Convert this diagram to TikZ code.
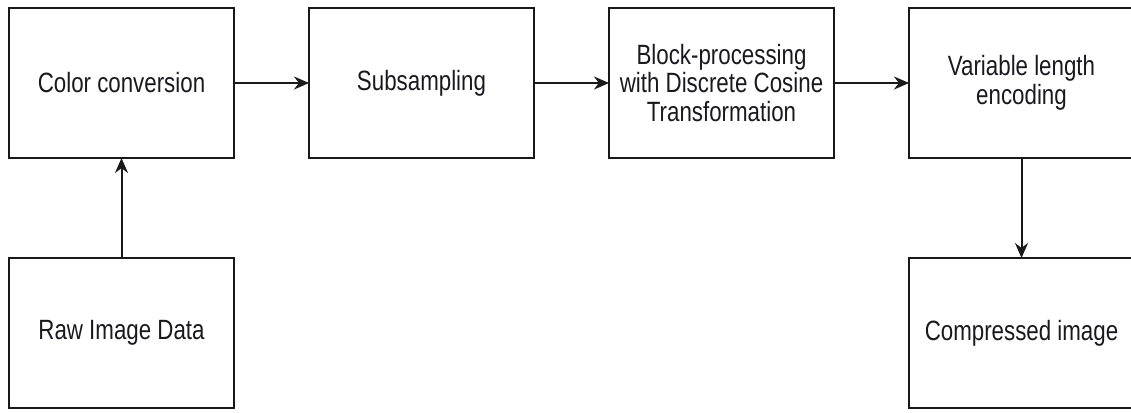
\documentclass[tikz,border=0pt]{standalone}
\usepackage{fontspec}
\setmainfont{Liberation Sans}[FakeStretch=0.8]
\usepackage{tikz}
\usetikzlibrary{arrows.meta,positioning}
\definecolor{boxline}{RGB}{25,25,25}
\definecolor{boxtext}{RGB}{25,25,30}

\begin{document}
\begin{tikzpicture}[x=1bp,y=-1bp,
    stage/.style={draw=boxline, line width=2.2bp, outer sep=0pt, minimum width=225bp, minimum height=150bp,
      align=center, font=\fontsize{28}{29}\selectfont, text=boxtext},
    flow/.style={-{Stealth[length=15bp,width=13bp]}, boxline, line width=2bp}]
        \useasboundingbox (0,0) rectangle (1131,412);
        \node[stage] (color) at (121.5,83) {Color conversion};
        \node[stage, right=75bp of color] (subsamp) {Subsampling};
        \node[stage, right=75bp of subsamp] (dct) {Block-processing\\with Discrete Cosine\\Transformation};
        \node[stage, right=75bp of dct] (vle) {Variable length\\encoding};
        \node[stage, below=100bp of color] (raw) {Raw Image Data};
        \node[stage, below=100bp of vle] (comp) {Compressed image};
        \draw[flow] (color) -- (subsamp);
        \draw[flow] (subsamp) -- (dct);
        \draw[flow] (dct) -- (vle);
        \draw[flow] (raw) -- (color);
        \draw[flow] (vle) -- (comp);
      \end{tikzpicture}
\end{document}
